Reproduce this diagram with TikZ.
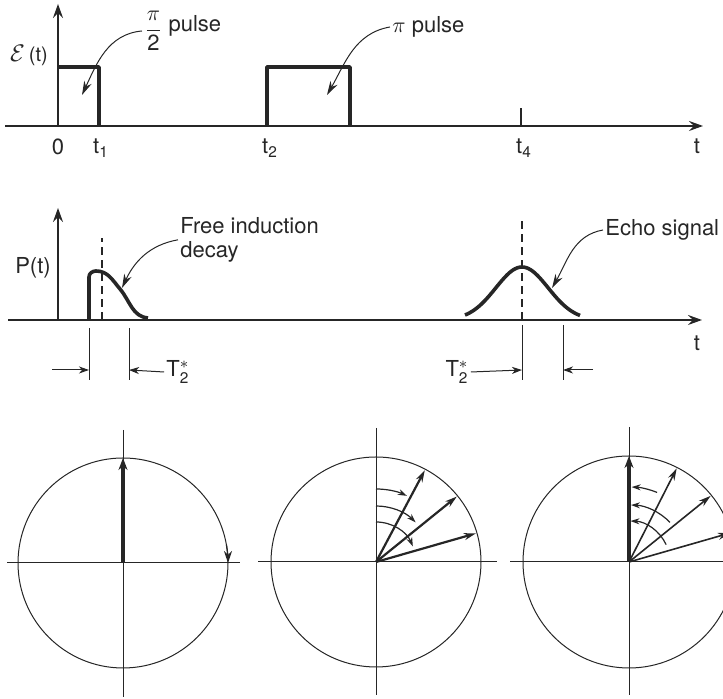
\documentclass[tikz,border=0pt]{standalone}
\usepackage{fontspec}
\setmainfont{TeX Gyre Heros}
\usepackage{amsmath}
\usetikzlibrary{arrows.meta, calc}

\begin{document}
\begin{tikzpicture}[x=0.5pt, y=0.5pt, black!85,
		every node/.style={font=\fontsize{11}{12}\selectfont, inner sep=1pt},
		axis/.style={line width=0.8pt, -{Stealth[length=7pt, width=5pt, inset=2.5pt]}},
		pulse/.style={line width=1.8pt, line join=round},
		pointer/.style={line width=0.5pt, -{Stealth[length=7pt, width=4pt]}},
		gaparrow/.style={line width=0.5pt, -{Stealth[length=5pt, width=3.5pt, inset=1.5pt]}},
		guide/.style={line width=0.6pt, dash pattern=on 4pt off 2.5pt},
		ring/.style={line width=0.5pt},
		spin/.style={line width=1.1pt, -{Stealth[length=6pt, width=3.5pt]}},
		bigspin/.style={line width=2.2pt, -{Stealth[length=6pt, width=4.5pt]}},
		turn/.style={line width=0.6pt, -{Stealth[length=4.5pt, width=3pt]}}]
		\useasboundingbox (0,0) rectangle (723,699);
		\clip (0,0) rectangle (723,699);

		\draw[axis] (5,573) -- (703,573);
		\draw[axis] (58,573) -- (58,695);
		\draw[line width=0.6pt] (521,573) -- (521,591);
		\draw[pulse] (58,632) -- (99,632) -- (99,573);
		\draw[pulse] (267,573) -- (267,632) -- (350,632) -- (350,573);
		\node (ef) at (29,644) {\large$\mathcal{E}$\,\normalsize(t)};
		\node (zero) at (58,552) {0};
		\node (ta) at (101,551) {t\textsubscript{1}};
		\node (tb) at (270,551) {t\textsubscript{2}};
		\node (tc) at (524,551) {t\textsubscript{4}};
		\node (tt) at (697,553) {t};
		\node[anchor=west] (half) at (142,668) {\raisebox{-2pt}{$\dfrac{\pi}{\text{2}}$} pulse};
		\node[anchor=west] (full) at (390,672) {$\pi$ pulse};
		\coordinate (halfin) at (82,604);
		\coordinate (fullin) at (327,604);
		\draw[pointer] (half.west) to[out=185,in=65] (halfin);
		\draw[pointer] (full.west) to[out=190,in=60] (fullin);

		\draw[axis] (8,379) -- (702,379);
		\draw[axis] (58,379) -- (58,491);
		\node (pt) at (33,431) {P(t)};
		\draw[pulse] (89,379) -- (89,422) to[out=90,in=180] (96,428) to[out=0,in=130] (120,410) to[out=-50,in=175] (148,381);
		\draw[pulse] plot[domain=465:580, samples=50] (\x, {379+53*exp(-pow((\x-522)/37,2))});
		\draw[guide] (102,379) -- (102,461);
		\draw[guide] (522,379) -- (522,482);
		\node[anchor=north west, align=left] (fid) at (178,484) {Free induction\\decay};
		\node[anchor=west] (echo) at (603,469) {Echo signal};
		\coordinate (fidin) at (122,411);
		\coordinate (echoin) at (552,411);
		\draw[pointer] (fid.west) to[out=190,in=65] (fidin);
		\draw[pointer] (echo.west) to[out=190,in=60] (echoin);
		\node (tm) at (697,356) {t};

		\draw[ring] (89,371) -- (89,319);
		\draw[ring] (129,371) -- (129,319);
		\draw[ring] (522,374) -- (522,319);
		\draw[ring] (563,374) -- (563,319);
		\coordinate (wa) at (89,329);
		\coordinate (wb) at (129,329);
		\coordinate (wc) at (522,329);
		\coordinate (wd) at (563,329);
		\node (tsa) at (178,327) {T$_{\text{2}}^{*}$};
		\node (tsb) at (457,327) {T$_{\text{2}}^{*}$};
		\draw[gaparrow] (52,329) -- (wa);
		\draw[gaparrow] (tsa.west) -- (wb);
		\draw[gaparrow] (tsb.east) -- (wc);
		\draw[gaparrow] (593,329) -- (wd);

		\coordinate (c1) at (123,136);
		\coordinate (c2) at (376,137);
		\coordinate (c3) at (629,137);

		\draw[ring] (c1) circle[radius=105];
		\draw[ring] (7,136) -- (240,136);
		\draw[ring] (123,269) -- (123,2);
		\draw[bigspin] (c1) -- ++(0,105);
		\draw[turn, -{Stealth[length=6pt, width=4pt]}] (c1) ++(10:105) arc[start angle=10, end angle=0, radius=105];

		\draw[ring] (c2) circle[radius=105];
		\draw[ring] (258,137) -- (497,137);
		\draw[ring] (376,271) -- (376,4);
		\foreach \a in {62,39,16} \draw[spin] (c2) -- ++(\a:104);
		\foreach \r/\e in {73/65,56/45,40/23} \draw[turn] (c2) ++(90:\r) arc[start angle=90, end angle=\e, radius=\r];

		\draw[ring] (c3) circle[radius=106];
		\draw[ring] (510,137) -- (740,137);
		\draw[ring] (629,272) -- (629,4);
		\draw[bigspin] (c3) -- ++(0,106);
		\foreach \a in {63,39,16} \draw[spin, line width=0.8pt] (c3) -- ++(\a:105);
		\foreach \r/\s in {75/68,57/44,41/25} \draw[turn] (c3) ++(\s:\r) arc[start angle=\s, end angle=88, radius=\r];
	\end{tikzpicture}
\end{document}
